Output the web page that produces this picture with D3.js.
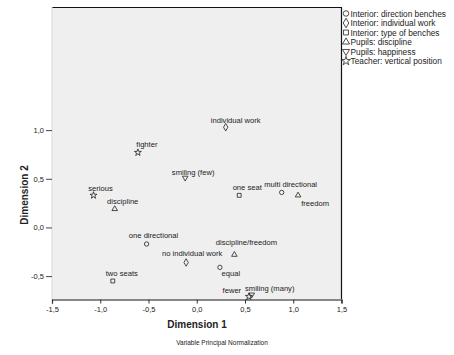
<!DOCTYPE html>
<html><head><meta charset="utf-8">
<script src="https://cdn.jsdelivr.net/npm/d3@7"></script>
<style>body{margin:0;background:#fff}svg{display:block}text{font-family:"Liberation Sans",Arial,sans-serif;fill:#222}</style>
</head><body><svg id="c" width="454" height="355"></svg>
<script>
// ---- data ----
const groups = ["Interior: direction benches","Interior: individual work","Interior: type of benches","Pupils: discipline","Pupils: happiness","Teacher: vertical position"];
const groupSymbols = ["circle","diamond","square","triUp","triDown","star"];
const pointLabels = ["individual work","no individual work","fighter","serious","fewer","smiling (few)","smiling (many)","discipline","freedom","discipline/freedom","one directional","multi directional","equal","one seat","two seats"];
const pointGroup = [1,1,5,5,5,4,4,3,3,3,0,0,0,2,2];
const pointX = [0.30,-0.11,-0.61,-1.07,0.54,-0.12,0.57,-0.85,1.05,0.39,-0.52,0.88,0.24,0.44,-0.87];
const pointY = [1.03,-0.36,0.77,0.33,-0.71,0.51,-0.69,0.19,0.33,-0.28,-0.17,0.36,-0.41,0.33,-0.55];
// label offsets (px) relative to marker: [dx, dy]
const labelOffsets = [[10,-7],[6,-9],[9,-8],[7,-7],[-17,-6],[8,-6],[18,-6],[8,-8],[17,8],[12,-12],[7,-9],[9,-8],[11,6],[8,-8],[9,-8]];
const xTicks = [-1.5,-1.0,-0.5,0.0,0.5,1.0,1.5];
const yTicks = [-0.5,0.0,0.5,1.0];
const xTitle = "Dimension 1", yTitle = "Dimension 2";
const subtitle = "Variable Principal Normalization";

// ---- chart ----
const svg = d3.select("#c");
const x = d3.scaleLinear().domain([-1.5,1.5]).range([52,341.5]);
const y = d3.scaleLinear().domain([-0.735,2.265]).range([299,7]);
const fmt = v => d3.format(".1f")(v).replace(".",",").replace("−","-");

svg.append("rect").attr("x",52).attr("y",7).attr("width",289.5).attr("height",292).attr("fill","#efefef");
svg.append("path").attr("d",`M52,7.5H341.5V299`).attr("fill","none").attr("stroke","#111").attr("stroke-width",1.2);
svg.append("line").attr("x1",52).attr("x2",52).attr("y1",7).attr("y2",299).attr("stroke","#d8d8d8");

const xa = svg.append("g").attr("transform","translate(0,299.5)")
  .call(d3.axisBottom(x).tickValues(xTicks).tickFormat(fmt).tickSize(4).tickPadding(3));
xa.select(".domain").attr("stroke","#111").attr("stroke-width",1.2);
xa.selectAll(".tick line").attr("stroke","#333");
xa.selectAll(".tick text").attr("font-size",7.5).attr("fill","#222").attr("font-family","Liberation Sans, Arial, sans-serif");

const ya = svg.append("g").attr("transform","translate(52,0)")
  .call(d3.axisLeft(y).tickValues(yTicks).tickFormat(fmt).tickSize(6).tickPadding(2));
ya.select(".domain").remove();
ya.selectAll(".tick line").attr("stroke","#444");
ya.selectAll(".tick text").attr("font-size",7.5).attr("fill","#222").attr("font-family","Liberation Sans, Arial, sans-serif");

svg.append("text").attr("x",197).attr("y",328).attr("text-anchor","middle").attr("font-size",10).attr("font-weight","bold").text(xTitle);
svg.append("text").attr("transform","translate(28,195) rotate(-90)").attr("text-anchor","middle").attr("font-size",10).attr("font-weight","bold").text(yTitle);
svg.append("text").attr("x",222).attr("y",345).attr("text-anchor","middle").attr("font-size",6.5).text(subtitle);

function symPath(kind, size){
  switch(kind){
    case "circle": return d3.symbol(d3.symbolCircle, size)();
    case "diamond": return d3.symbol(d3.symbolDiamond, size*1.1)();
    case "square": return d3.symbol(d3.symbolSquare, size)();
    case "triUp": return d3.symbol(d3.symbolTriangle, size*0.9)();
    case "triDown": return d3.symbol(d3.symbolTriangle, size*0.9)();
    case "star": return d3.symbol(d3.symbolStar, size)();
  }
}
function drawSym(g, kind, cx, cy, size){
  g.append("path").attr("d",symPath(kind,size))
   .attr("transform",`translate(${cx},${cy})${kind==="triDown"?" rotate(180)":""}`)
   .attr("fill","none").attr("stroke","#222").attr("stroke-width",0.8);
}

const pts = svg.append("g");
pointLabels.forEach((lab,i)=>{
  const cx = x(pointX[i]), cy = y(pointY[i]);
  drawSym(pts, groupSymbols[pointGroup[i]], cx, cy, 15);
  pts.append("text").attr("x",cx+labelOffsets[i][0]).attr("y",cy+labelOffsets[i][1]+2.7)
    .attr("text-anchor","middle").attr("font-size",7.6).text(lab);
});

// legend
const lg = svg.append("g");
groups.forEach((gname,i)=>{
  const ry = 13.5 + i*9.5;
  drawSym(lg, groupSymbols[i], 346, ry, 24);
  lg.append("text").attr("x",350.5).attr("y",ry+3).attr("font-size",8.3).text(gname);
});
</script></body></html>
